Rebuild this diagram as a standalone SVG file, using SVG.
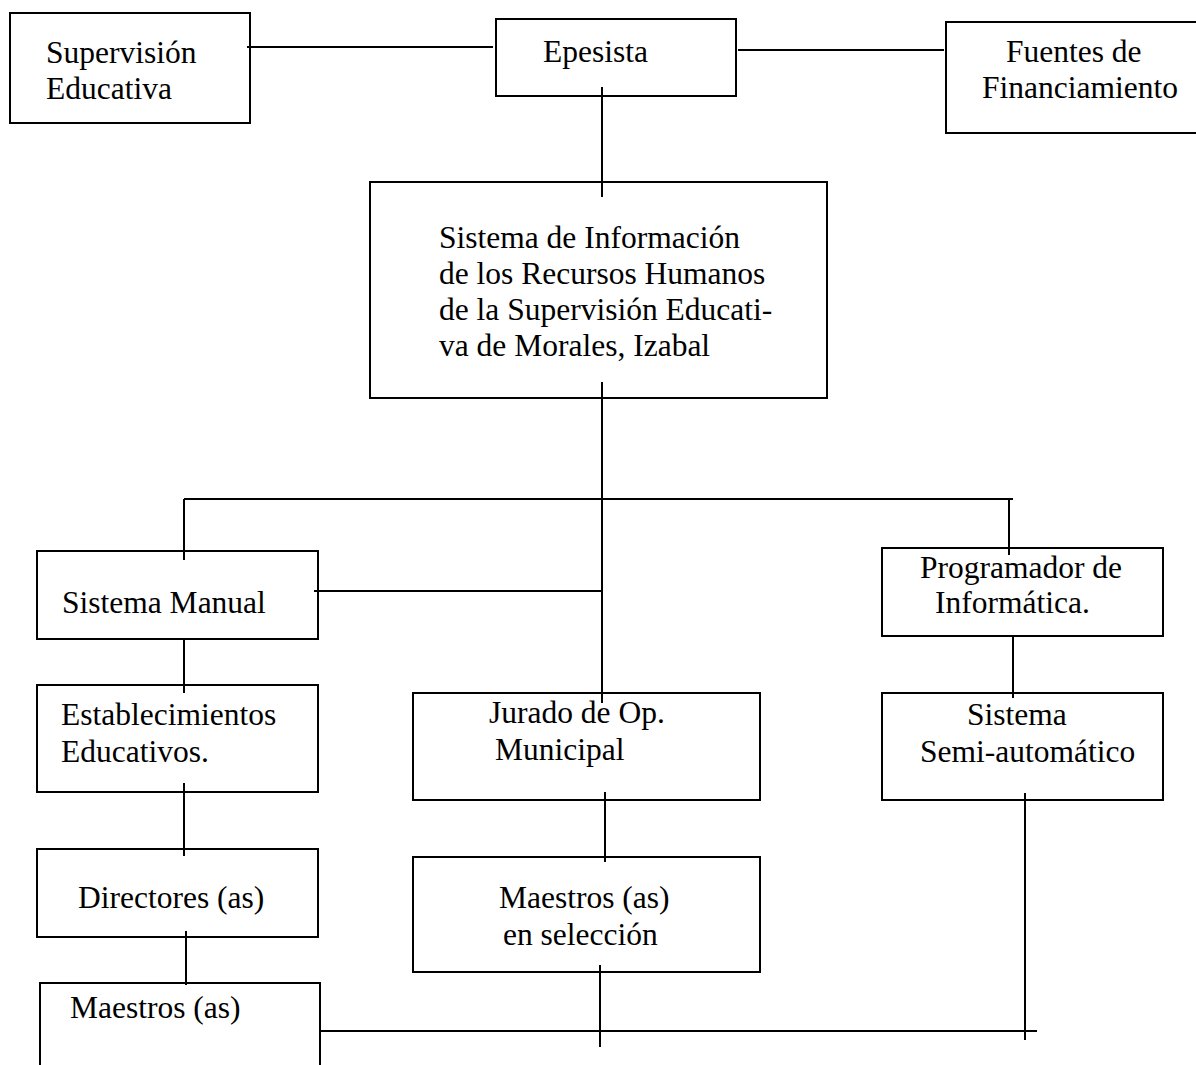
<svg xmlns="http://www.w3.org/2000/svg" width="1196" height="1065" viewBox="0 0 1196 1065">
<style>
.box{fill:#fff;stroke:#000;stroke-width:2}
.t{font-family:"Liberation Serif","Times New Roman",serif;font-size:31.5px;fill:#000}
.c line{stroke:#000;stroke-width:2}
</style>
<rect width="1196" height="1065" fill="#fff"/>
<g id="n-supervision"><rect class="box" x="10" y="13" width="240" height="110"/><text class="t" x="46" y="63">Supervisión</text><text class="t" x="46" y="99">Educativa</text></g>
<g id="n-epesista"><rect class="box" x="496" y="19" width="240" height="77"/><text class="t" x="543" y="62">Epesista</text></g>
<g id="n-fuentes"><rect class="box" x="946" y="22" width="260" height="111"/><text class="t" x="1006" y="62">Fuentes de</text><text class="t" x="982" y="98">Financiamiento</text></g>
<g id="n-sistema"><rect class="box" x="370" y="182" width="457" height="216"/><text class="t" x="439" y="248">Sistema de Información</text><text class="t" x="439" y="284">de los Recursos Humanos</text><text class="t" x="439" y="320">de la Supervisión Educati-</text><text class="t" x="439" y="356">va de Morales, Izabal</text></g>
<g id="n-manual"><rect class="box" x="37" y="551" width="281" height="88"/><text class="t" x="62" y="613">Sistema Manual</text></g>
<g id="n-programador"><rect class="box" x="882" y="548" width="281" height="88"/><text class="t" x="920" y="578">Programador de</text><text class="t" x="935" y="613">Informática.</text></g>
<g id="n-establecimientos"><rect class="box" x="37" y="685" width="281" height="107"/><text class="t" x="61" y="725">Establecimientos</text><text class="t" x="61" y="762">Educativos.</text></g>
<g id="n-jurado"><rect class="box" x="413" y="693" width="347" height="107"/><text class="t" x="489" y="723">Jurado de Op.</text><text class="t" x="495" y="760">Municipal</text></g>
<g id="n-semi"><rect class="box" x="882" y="693" width="281" height="107"/><text class="t" x="967" y="725">Sistema</text><text class="t" x="920" y="762">Semi-automático</text></g>
<g id="n-directores"><rect class="box" x="37" y="849" width="281" height="88"/><text class="t" x="78" y="908">Directores (as)</text></g>
<g id="n-seleccion"><rect class="box" x="413" y="857" width="347" height="115"/><text class="t" x="499" y="908">Maestros (as)</text><text class="t" x="503" y="945">en selección</text></g>
<g id="n-maestros"><rect class="box" x="40" y="983" width="280" height="100"/><text class="t" x="70" y="1018">Maestros (as)</text></g>
<g class="c" id="connectors">
<line x1="247" y1="47" x2="493" y2="47"/>
<line x1="738" y1="50" x2="944" y2="50"/>
<line x1="602" y1="87" x2="602" y2="197"/>
<line x1="602" y1="382" x2="602" y2="703"/>
<line x1="184" y1="499" x2="1013" y2="499"/>
<line x1="184" y1="499" x2="184" y2="560"/>
<line x1="1009" y1="499" x2="1009" y2="555"/>
<line x1="314" y1="591" x2="602" y2="591"/>
<line x1="184" y1="639" x2="184" y2="693"/>
<line x1="1013" y1="636" x2="1013" y2="698"/>
<line x1="184" y1="783" x2="184" y2="856"/>
<line x1="605" y1="792" x2="605" y2="862"/>
<line x1="1025" y1="793" x2="1025" y2="1040"/>
<line x1="186" y1="931" x2="186" y2="985"/>
<line x1="600" y1="965" x2="600" y2="1047"/>
<line x1="320" y1="1031" x2="1037" y2="1031"/>
</g>
</svg>
